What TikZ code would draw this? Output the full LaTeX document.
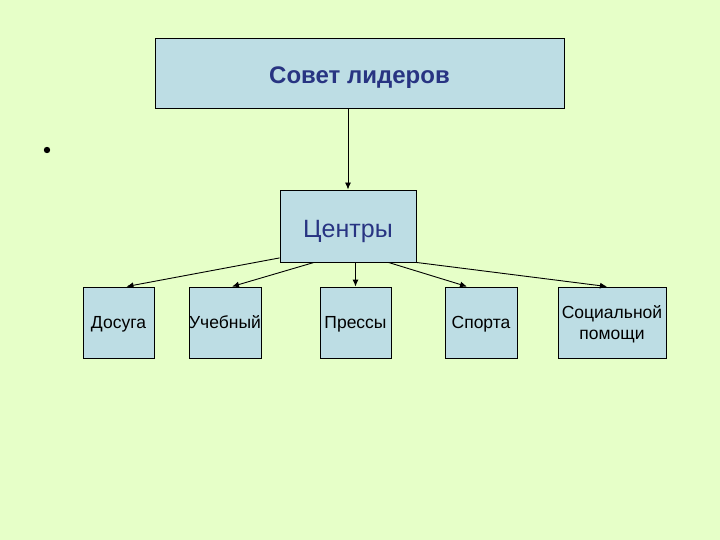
\documentclass[tikz,border=0pt]{standalone}
\usepackage{fontspec}
\setmainfont{Liberation Sans}
\usepackage{xcolor}
\usetikzlibrary{calc,arrows.meta,positioning}
\definecolor{slidebg}{RGB}{230,255,200}
\definecolor{boxfill}{RGB}{189,221,228}
\definecolor{titleblue}{RGB}{40,52,130}
\tikzset{
  unit/.style={draw=black,line width=0.9pt,fill=boxfill,inner sep=0pt,align=center,text height=12.6pt,text depth=0pt,font=\fontsize{17.5}{20.5}\selectfont},
  link/.style={-{Latex[length=7pt,width=6pt]},line width=0.9pt}
}

\begin{document}
\begin{tikzpicture}[x=1pt,y=-1pt]
   \fill[slidebg] (0,0) rectangle (720,540);
   \useasboundingbox (0,0) rectangle (720,540);
   \node[unit,minimum width=409pt,minimum height=70pt,text height=21.2pt,font=\fontsize{24}{28}\selectfont\bfseries,text=titleblue] (council) at (359.5,73) {Совет лидеров};
   \fill[black] (47,150) circle (3.2pt);
   \node[unit,minimum width=136pt,minimum height=72pt,text height=23.9pt,font=\fontsize{25}{29}\selectfont,text=titleblue] (centres) at (348,226) {Центры};
   \node[unit,minimum width=71pt,minimum height=71pt] (leisure) at (118.5,322.5) {Досуга};
   \node[unit,minimum width=72pt,minimum height=71pt] (study) at (225,322.5) {Учебный};
   \node[unit,minimum width=71pt,minimum height=71pt] (press) at (355.5,322.5) {Прессы};
   \node[unit,minimum width=72pt,minimum height=71pt] (sport) at (481,322.5) {Спорта};
   \node[unit,minimum width=108pt,minimum height=71pt,text height=33.1pt] (social) at (612,322.5) {Социальной\\помощи};
   \draw[link] (council.south -| centres.north) -- (centres.north);
   \draw[link] (centres.205) -- ($(leisure.north)+(8,0)$);
   \draw[link] (centres.227) -- ($(study.north)+(7,0)$);
   \draw[link] (centres.south -| press.north) -- (press.north);
   \draw[link] (centres.318) -- ($(sport.north)+(-14,0)$);
   \draw[link] (centres.south east) -- ($(social.north)+(-5,0)$);
\end{tikzpicture}
\end{document}
